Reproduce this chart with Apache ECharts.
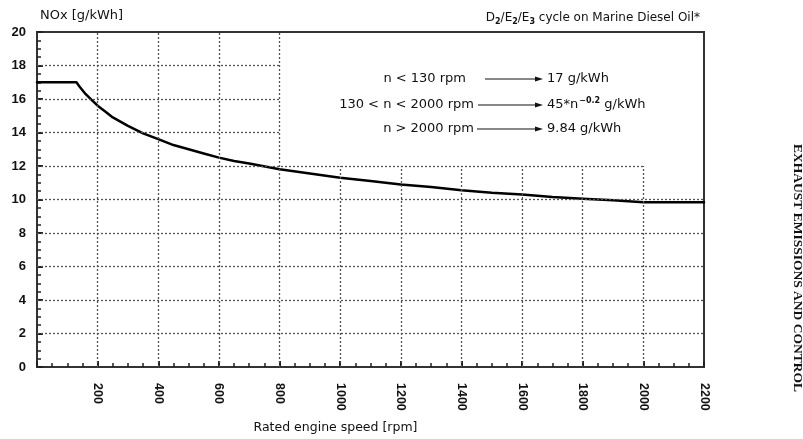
<!DOCTYPE html>
<html>
<head>
<meta charset="utf-8">
<script src="https://cdn.jsdelivr.net/npm/echarts@6/dist/echarts.min.js"></script>
<style>
  html, body { margin: 0; padding: 0; background: #fff; }
  #chart { width: 803px; height: 439px; }
</style>
</head>
<body>
<div id="chart"></div>
<script>
// rated engine speed (rpm) and NOx limit (g/kWh)
const speed = [0, 130, 140, 160, 180, 200, 225, 250, 275, 300, 350, 400, 450, 500, 550, 600, 650, 700, 800, 900, 1000, 1100, 1200, 1300, 1400, 1500, 1600, 1700, 1800, 1900, 2000, 2200];
const nox = [17, 17, 16.75, 16.3, 15.95, 15.6, 15.25, 14.9, 14.65, 14.4, 13.95, 13.6, 13.25, 13.0, 12.75, 12.5, 12.3, 12.15, 11.8, 11.55, 11.3, 11.1, 10.9, 10.75, 10.55, 10.4, 10.3, 10.15, 10.05, 9.95, 9.84, 9.84];

// grid lines of the original figure (not all span the whole plot)
const vLinesFull = [200, 400, 600, 800];                 // up to 20
const vLinesShort = [1000, 1200, 1400, 1600, 1800, 2000]; // up to 12
const hLinesShort = [14, 16, 18];                         // out to 800
const hLinesMid = [12];                                   // out to 2000
const hLinesFull = [2, 4, 6, 8, 10];                      // out to 2200

const xMax = 2200;
const yMax = 20;

const ink = "#111";
const gridInk = "#555";
const sansFont = "DejaVu Sans";

function segment(x1, y1, x2, y2) {
  return [{ coord: [x1, y1] }, { coord: [x2, y2] }];
}

const gridSegments = [
  ...vLinesFull.map((x) => segment(x, 0, x, yMax)),
  ...vLinesShort.map((x) => segment(x, 0, x, 12)),
  ...hLinesShort.map((y) => segment(0, y, 800, y)),
  ...hLinesMid.map((y) => segment(0, y, 2000, y)),
  ...hLinesFull.map((y) => segment(0, y, xMax, y)),
];

// annotation rows: [left text, right text (rich), y, left text end x, arrow start x]
const noteRows = [
  ["n < 130 rpm", "17 g/kWh", 79, 466, 485],
  ["130 < n < 2000 rpm", "{t|45*n}{sup|\u22120.2}{t| g/kWh}", 105, 474, 478],
  ["n > 2000 rpm", "9.84 g/kWh", 129, 474, 477],
];
const arrowTip = 543;

function noteGraphics() {
  const items = [];
  noteRows.forEach(([left, right, y, leftEnd, arrowStart]) => {
    items.push({
      type: "text",
      x: leftEnd,
      y: y,
      style: {
        text: left,
        fontFamily: sansFont,
        fontSize: 13,
        fill: ink,
        align: "right",
        verticalAlign: "middle",
      },
    });
    items.push({
      type: "line",
      shape: { x1: arrowStart, y1: y, x2: arrowTip - 6, y2: y },
      style: { stroke: ink, lineWidth: 1.2 },
    });
    items.push({
      type: "polygon",
      shape: { points: [[arrowTip, y], [arrowTip - 8, y - 2.5], [arrowTip - 8, y + 2.5]] },
      style: { fill: ink },
    });
    items.push({
      type: "text",
      x: arrowTip + 4,
      y: y,
      style: {
        text: right,
        fontFamily: sansFont,
        fontSize: 13,
        fill: ink,
        align: "left",
        verticalAlign: "middle",
        rich: {
          t: { fontFamily: sansFont, fontSize: 13, fill: ink, lineHeight: 16, verticalAlign: "middle" },
          sup: { fontFamily: sansFont, fontSize: 8, fontWeight: "bold", fill: ink, lineHeight: 16, verticalAlign: "top", padding: [0, 0, 0, 1] },
        },
      },
    });
  });
  return items;
}

const chart = echarts.init(document.getElementById("chart"), null, { renderer: "canvas" });

const option = {
  animation: false,
  backgroundColor: "#fff",
  title: {
    text: "{n|D}{s|2}{n|/E}{s|2}{n|/E}{s|3}{n| cycle on Marine Diesel Oil*}",
    right: 98,
    top: 5,
    textStyle: {
      fontWeight: "normal",
      rich: {
        n: { fontFamily: sansFont, fontSize: 12, fontWeight: "normal", color: ink, lineHeight: 16, verticalAlign: "middle" },
        s: { fontFamily: sansFont, fontSize: 8, fontWeight: "bold", color: ink, lineHeight: 16, verticalAlign: "bottom" },
      },
    },
  },
  grid: {
    left: 37,
    right: 99,
    top: 32,
    bottom: 66,
    show: true,
    borderColor: "#333",
    borderWidth: 2,
  },
  xAxis: {
    type: "value",
    min: 0,
    max: xMax,
    interval: 200,
    name: "Rated engine speed [rpm]",
    nameLocation: "middle",
    nameGap: 54,
    nameTextStyle: {
      fontFamily: sansFont,
      fontSize: 12.5,
      color: ink,
      padding: [0, 70, 0, 0],
    },
    axisLine: { lineStyle: { color: "#333", width: 2 } },
    axisTick: { inside: true, length: 6, lineStyle: { color: "#222", width: 2 } },
    minorTick: { show: true, splitNumber: 4, length: 4, lineStyle: { color: "#222", width: 1.5 } },
    axisLabel: {
      rotate: -90,
      margin: 16,
      fontFamily: "Liberation Sans",
      fontWeight: "bold",
      fontSize: 12.5,
      color: ink,
      formatter: (v) => (v === 0 ? "" : String(v)),
    },
    splitLine: { show: false },
  },
  yAxis: {
    type: "value",
    min: 0,
    max: yMax,
    interval: 2,
    name: "NOx [g/kWh]",
    nameLocation: "end",
    nameGap: 16,
    nameTextStyle: {
      fontFamily: sansFont,
      fontSize: 13,
      color: ink,
      align: "left",
      verticalAlign: "middle",
      padding: [0, 0, 0, 3],
    },
    axisLine: { lineStyle: { color: "#333", width: 2 } },
    axisTick: { inside: true, length: 6, lineStyle: { color: "#222", width: 2 } },
    minorTick: { show: true, splitNumber: 4, length: 4, lineStyle: { color: "#222", width: 1.5 } },
    axisLabel: {
      margin: 11,
      fontFamily: "Liberation Sans",
      fontWeight: "bold",
      fontSize: 13,
      color: ink,
    },
    splitLine: { show: false },
  },
  series: [
    {
      // carries the partial grid lines only
      name: "grid",
      type: "line",
      data: [],
      z: 1,
      silent: true,
      markLine: {
        silent: true,
        symbol: ["none", "none"],
        label: { show: false },
        lineStyle: { color: gridInk, type: [2, 2], width: 1.3 },
        emphasis: { disabled: true },
        data: gridSegments,
      },
    },
    {
      name: "NOx",
      type: "line",
      z: 3,
      showSymbol: false,
      lineStyle: { color: "#000", width: 2.5, join: "round", cap: "round" },
      data: speed.map((s, i) => [s, nox[i]]),
    },
  ],
  graphic: [
    ...noteGraphics(),
    {
      type: "text",
      x: 797,
      y: 268,
      rotation: -Math.PI / 2,
      style: {
        text: "EXHAUST EMISSIONS AND CONTROL",
        fontFamily: "Liberation Serif",
        fontWeight: "bold",
        fontSize: 13.5,
        fill: ink,
        align: "center",
        verticalAlign: "middle",
      },
    },
  ],
};

chart.setOption(option);
</script>
</body>
</html>
